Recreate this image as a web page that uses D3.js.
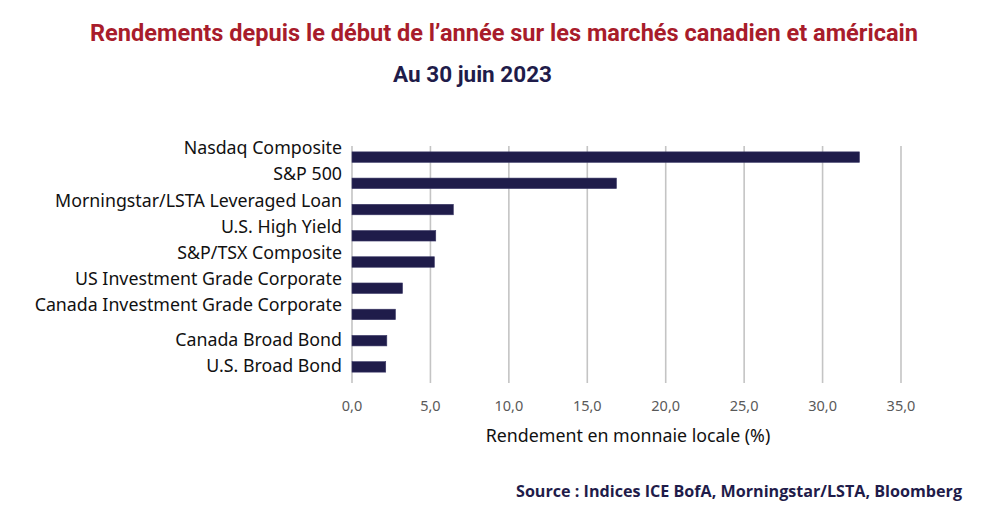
<!DOCTYPE html>
<html>
<head>
<meta charset="utf-8">
<script src="https://cdn.jsdelivr.net/npm/d3@7"></script>
<style>
  body { margin: 0; background: #fff; }
  svg { display: block; }
</style>
</head>
<body>
<svg id="chart" width="989" height="509"></svg>
<script>
"use strict";
var categories = [
    'Nasdaq Composite',
    'S&P 500',
    'Morningstar/LSTA Leveraged Loan',
    'U.S. High Yield',
    'S&P/TSX Composite',
    'US Investment Grade Corporate',
    'Canada Investment Grade Corporate',
    'Canada Broad Bond',
    'U.S. Broad Bond'
];
var values = [32.35, 16.86, 6.46, 5.34, 5.25, 3.22, 2.77, 2.22, 2.15];
var ticks = [0, 5, 10, 15, 20, 25, 30, 35];

var title = 'Rendements depuis le début de l\u2019année sur les marchés canadien et américain';
var subtitle = 'Au 30 juin 2023';
var axisTitle = 'Rendement en monnaie locale (%)';
var source = 'Source : Indices ICE BofA, Morningstar/LSTA, Bloomberg';

var navy = '#1f1c4a';
var labelFont = '"Noto Sans", sans-serif';
var svg = d3.select('#chart');

var x = d3.scaleLinear().domain([0, 35]).range([352, 901]);
var y = d3.scaleBand().domain(categories).range([144, 380]).paddingInner(0.6).paddingOuter(0.3);

// gridlines
svg.append('g').selectAll('line').data(ticks).enter().append('line')
    .attr('x1', function (d) { return x(d); })
    .attr('x2', function (d) { return x(d); })
    .attr('y1', 146).attr('y2', 383)
    .attr('stroke', '#c4c4c4').attr('stroke-width', 1.6);

// bars
svg.append('g').selectAll('rect').data(values).enter().append('rect')
    .attr('x', x(0))
    .attr('y', function (d, i) { return y(categories[i]); })
    .attr('width', function (d) { return x(d) - x(0); })
    .attr('height', y.bandwidth())
    .attr('fill', navy)
    .attr('stroke', '#3a3766').attr('stroke-width', 0.6);

// category labels
svg.append('g').selectAll('text').data(categories).enter().append('text')
    .attr('x', 342)
    .attr('y', function (d, i) {
        var c = y(d) + y.bandwidth() / 2;
        return (i < 7 ? c - 9 : c - 1) + 6;
    })
    .attr('text-anchor', 'end')
    .attr('font-family', labelFont)
    .attr('font-size', 17.8)
    .attr('fill', '#111')
    .text(function (d) { return d; });

// tick labels
var fmt = function (d) { return d3.format('.1f')(d).replace('.', ','); };
svg.append('g').selectAll('text').data(ticks).enter().append('text')
    .attr('x', function (d) { return x(d); })
    .attr('y', 411)
    .attr('text-anchor', 'middle')
    .attr('font-family', labelFont)
    .attr('font-size', 14.5)
    .attr('fill', '#595959')
    .text(fmt);

svg.append('text')
    .attr('x', 628).attr('y', 442)
    .attr('text-anchor', 'middle')
    .attr('font-family', labelFont)
    .attr('font-size', 17.8)
    .attr('fill', '#111')
    .text(axisTitle);

svg.append('text')
    .attr('x', 90).attr('y', 41)
    .attr('textLength', 828).attr('lengthAdjust', 'spacingAndGlyphs')
    .attr('font-family', '"Liberation Sans Narrow", "Roboto", sans-serif')
    .attr('font-weight', 'bold')
    .attr('font-size', 24)
    .attr('fill', '#a81c2b')
    .text(title);

svg.append('text')
    .attr('x', 393).attr('y', 82)
    .attr('textLength', 159).attr('lengthAdjust', 'spacingAndGlyphs')
    .attr('font-family', '"Liberation Sans Narrow", "Roboto", sans-serif')
    .attr('font-weight', 'bold')
    .attr('font-size', 22)
    .attr('fill', navy)
    .text(subtitle);

svg.append('text')
    .attr('x', 516).attr('y', 497)
    .attr('textLength', 446).attr('lengthAdjust', 'spacingAndGlyphs')
    .attr('font-family', '"Open Sans", sans-serif')
    .attr('font-weight', 'bold')
    .attr('font-size', 16)
    .attr('fill', navy)
    .text(source);
</script>
</body>
</html>
